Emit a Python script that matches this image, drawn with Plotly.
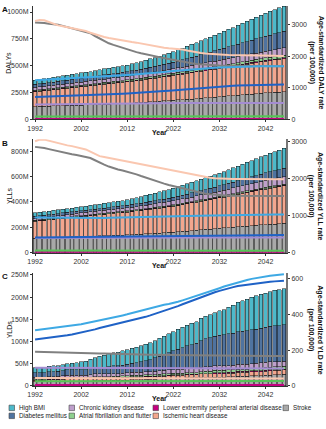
import plotly.graph_objects as go

# ---------------- data ----------------
years = list(range(1992, 2047))

causes = ["Stroke", "Ischemic heart disease", "Lower extremity peripheral arterial disease",
          "Atrial fibrillation and flutter", "Chronic kidney disease", "Diabetes mellitus", "High BMI"]

# DALYs (millions)
daly_stroke = [120,121,122,124,125,127,128,130,131,133, 134,136,137,139,140,142,143,145,146,148,
               150,152,155,157,160,163,166,169,172,175, 178,181,184,187,190,194,197,200,204,207,
               211,214,218,221,225,228,232,236,239,243, 246,249,252,255,258]
daly_ihd = [139,142,145,148,151,154,157,160,164,167, 170,173,176,179,182,185,188,191,194,197,
            200,203,206,209,213,216,219,222,225,229, 232,235,238,241,245,248,251,255,258,262,
            265,268,271,274,277,280,283,287,290,293, 296,299,302,305,309]
daly_lepad = [4,4,4,4,4,4,4,4,4,4, 4,4,4,4,5,5,5,5,5,5, 5,5,5,5,5,5,5,5,5,6,
              6,6,6,6,6,6,6,6,6,6, 6,6,6,6,7,7,7,7,7,7, 7,7,7,7,7]
daly_af = [10,10,10,10,10,11,11,11,11,11, 11,11,11,12,12,12,12,12,12,12, 12,13,13,13,13,13,14,14,14,14,
           14,15,15,15,16,16,16,17,17,17, 18,18,19,19,20,20,21,21,22,22, 23,23,24,24,25]
daly_ckd = [25,25,26,26,27,27,28,28,28,29, 29,30,30,31,31,32,32,33,33,34, 34,35,36,36,37,38,39,40,40,41,
            42,43,44,45,46,47,48,49,50,51, 52,53,54,55,56,57,58,59,60,61, 62,63,64,65,66]
daly_dm = [28,29,29,30,31,31,32,33,34,34, 35,36,36,37,38,39,40,40,41,42, 43,44,45,47,49,51,52,54,56,58,
           60,63,67,71,75,79,83,87,92,96, 100,104,108,112,116,120,124,128,132,136, 140,144,148,152,155]
daly_bmi = [40,41,42,43,44,45,46,47,48,49, 50,51,52,53,54,55,56,58,59,60, 62,64,67,70,73,77,81,85,90,95,
            100,105,110,115,120,125,130,135,140,145, 150,156,162,168,175,182,189,196,203,209, 215,220,225,230,235]

# Age-standardized DALY rate (per 100,000)
dalyr_stroke = [3070,3068,3050,3030,3015,3000,2960,2920,2890,2860, 2820,2780,2730,2640,2560,2480,2410,2360,2310,2260,
                2215,2170,2130,2095,2060,2030,2000,1970,1940,1910, 1880,1850,1820,1795,1775,1755,1740,1725,1715,1708,
                1703,1700,1698,1696,1694,1692,1691,1690,1689,1688, 1687,1686,1685,1684,1684]
dalyr_ihd = [3113,3150,3140,3080,3020,2977,2950,2920,2890,2860, 2835,2800,2742,2690,2650,2610,2580,2550,2520,2495,
             2470,2450,2430,2400,2370,2345,2320,2295,2270,2250, 2240,2230,2210,2180,2150,2125,2105,2090,2075,2065,
             2055,2048,2040,2035,2030,2027,2025,2022,2020,2018, 2016,2014,2012,2010,2008]
dalyr_lepad = [16,16,16,16,16,16,16,15,15,15, 15,15,15,15,15,15,15,15,15,15, 15,15,15,15,15,15,15,15,15,15,
               15,15,15,15,15,15,15,15,15,15, 15,15,15,15,15,15,15,15,15,15, 15,15,15,15,15]
dalyr_af = [92,92,92,93,93,93,93,94,94,94, 94,94,95,95,95,95,95,95,95,95, 95,95,95,95,95,95,96,96,96,96,
            96,96,96,96,96,96,96,96,96,96, 96,96,96,96,96,96,96,96,96,96, 96,96,96,96,96]
dalyr_ckd = [470,472,474,476,478,480,482,484,486,488, 490,492,494,496,498,500,502,504,506,508,
             510,511,512,513,514,515,516,517,518,518, 518,519,519,519,519,519,519,518,518,518,
             518,518,518,518,518,517,517,517,517,517, 517,517,517,517,517]
dalyr_dm = [709,713,717,721,726,731,736,741,746,751, 756,761,767,773,779,785,791,797,803,810,
            817,824,831,840,849,860,872,884,896,908, 920,935,950,963,976,989,1001,1012,1023,1033,
            1042,1050,1057,1064,1070,1075,1080,1084,1088,1092, 1095,1098,1100,1101,1102]
dalyr_bmi = [1239,1246,1254,1262,1270,1278,1286,1294,1302,1310, 1318,1326,1334,1342,1350,1358,1366,1374,1382,1392,
             1402,1412,1422,1434,1446,1460,1474,1488,1502,1516, 1530,1544,1557,1570,1582,1594,1605,1615,1624,1632,
             1640,1647,1653,1659,1664,1668,1672,1675,1678,1680, 1681,1682,1683,1684,1684]

# YLLs (millions)
yll_stroke = [115,116,117,118,120,121,122,123,125,126, 127,128,129,131,132,133,134,136,137,138,
              140,142,144,146,148,150,152,155,157,160, 162,165,168,171,174,177,180,183,186,189,
              192,195,198,201,204,207,210,213,216,219, 222,224,226,228,231]
yll_ihd = [133,136,138,141,143,146,148,151,153,156, 158,160,163,165,167,169,172,174,176,178,
           180,182,185,187,190,192,195,197,200,202, 205,208,212,215,219,222,226,229,233,236,
           240,244,248,252,256,260,264,268,272,276, 280,284,288,291,295]
yll_lepad = [2,2,2,2,2,2,2,2,2,2, 2,2,2,2,2,2,2,3,3,3, 3,3,3,3,3,3,3,3,3,3,
             3,3,3,3,3,3,3,3,3,4, 4,4,4,4,4,4,4,4,4,4, 4,4,4,4,4]
yll_af = [5,5,5,5,5,5,5,5,5,6, 6,6,6,6,6,6,6,6,6,6, 6,6,6,6,6,7,7,7,7,7,
          7,7,7,7,7,8,8,8,8,8, 8,8,8,9,9,9,9,9,9,9, 10,10,10,10,10]
yll_ckd = [18,18,18,19,19,19,20,20,20,21, 21,21,22,22,22,23,23,24,24,25, 25,26,26,27,28,28,29,30,30,31,
           32,33,34,35,36,37,38,39,40,41, 42,43,44,45,46,48,49,50,51,53, 54,55,56,57,58]
yll_dm = [14,14,14,15,15,15,16,16,16,17, 17,17,18,18,18,19,19,19,20,20, 20,21,22,22,23,24,25,26,26,27,
          28,29,30,31,32,34,35,36,37,39, 40,42,44,46,48,50,52,54,56,58, 60,62,63,65,66]
yll_bmi = [27,27,28,28,29,29,30,30,31,31, 32,33,33,34,35,36,37,38,39,40, 42,44,47,50,53,56,59,62,65,68,
           72,75,78,81,84,87,90,93,96,98, 100,104,108,112,116,120,124,128,132,136, 140,145,149,154,158]

# Age-standardized YLL rate (per 100,000)
yllr_stroke = [2850,2845,2820,2790,2760,2730,2700,2670,2650,2630, 2600,2575,2550,2490,2421,2370,2320,2275,2243,2215,
               2185,2150,2110,2065,2020,1975,1930,1895,1860,1825, 1796,1760,1725,1690,1662,1635,1610,1590,1573,1560,
               1548,1540,1535,1531,1529,1528,1528,1527,1527,1526, 1526,1526,1525,1525,1525]
yllr_ihd = [3003,3048,3045,3010,2975,2945,2915,2890,2870,2845, 2810,2780,2720,2650,2600,2575,2550,2525,2500,2475,
            2450,2430,2410,2385,2360,2335,2310,2285,2260,2235, 2210,2185,2160,2135,2110,2085,2060,2040,2020,2005,
            1995,1990,1987,1985,1983,1982,1981,1980,1980,1979, 1979,1978,1978,1978,1977]
yllr_lepad = [9,9,9,9,9,9,9,9,9,9, 9,9,9,8,8,8,8,8,8,8, 8,8,8,8,8,8,8,8,8,8,
              8,8,8,8,8,8,8,8,8,8, 8,8,8,8,8,8,8,8,8,8, 8,8,8,8,8]
yllr_af = [56,56,56,55,55,55,55,55,55,55, 55,54,54,54,54,54,54,54,54,54, 54,54,54,54,54,54,54,54,54,54,
           54,54,54,54,54,54,54,54,54,54, 54,54,54,54,54,54,54,54,54,54, 54,54,54,54,54]
yllr_ckd = [398,399,400,400,401,401,402,402,403,403, 404,404,404,405,405,405,405,406,406,406,
            406,406,407,407,407,407,407,407,408,408, 408,408,408,408,408,408,408,408,408,408,
            408,408,408,408,408,408,408,408,408,408, 408,408,408,408,408]
yllr_dm = [410,411,412,413,414,415,416,417,418,419, 420,421,422,423,424,425,426,427,428,429,
           430,432,434,436,438,440,442,444,446,448, 450,452,454,456,458,460,462,463,464,465,
           466,467,468,469,470,471,471,472,472,473, 473,473,474,474,474]
yllr_bmi = [946,944,942,940,938,936,935,934,933,932, 932,932,933,934,935,936,938,940,942,944,
            946,948,951,954,957,960,963,966,969,972, 975,978,981,984,987,990,993,996,999,1002,
            1005,1008,1010,1012,1014,1016,1018,1020,1022,1023, 1024,1025,1026,1026,1027]

# YLDs (millions)
yld_stroke = [9,9,9,10,10,10,10,11,11,11, 11,11,11,12,12,12,12,13,13,13, 13,14,14,14,15,15,15,16,16,16,
              17,17,17,18,18,18,19,19,19,20, 20,20,21,21,22,22,22,23,23,23, 24,24,25,25,26]
yld_ihd = [4,4,4,4,4,4,5,5,5,5, 5,5,5,5,5,5,5,5,5,6, 6,6,6,6,6,6,6,6,6,7,
           7,7,7,7,7,7,8,8,8,8, 8,8,8,8,9,9,9,9,9,9, 9,10,10,10,10]
yld_lepad = [1,1,1,1,1,1,1,1,1,1, 1,1,1,1,1,1,1,1,1,1, 1,1,1,1,1,1,1,1,1,1,
             1,1,1,1,1,1,1,1,1,2, 2,2,2,2,2,2,2,2,2,2, 2,2,2,2,2]
yld_af = [2,2,2,2,2,2,2,2,2,2, 2,2,3,3,3,3,3,3,3,3, 3,3,3,3,3,3,3,3,4,4,
          4,4,4,4,4,4,4,5,5,5, 5,5,5,5,5,5,5,5,6,6, 6,6,6,6,6]
yld_ckd = [4,4,4,4,4,5,5,5,5,5, 5,5,5,6,6,6,6,6,6,6, 7,7,7,7,7,7,8,8,8,8,
           8,9,9,9,9,9,10,10,10,10, 10,10,10,11,11,11,11,11,11,12, 12,12,12,12,12]
yld_dm = [10,10,10,11,11,11,11,12,12,12, 13,13,14,14,15,15,16,17,17,18, 19,20,21,23,25,27,30,33,36,39,
          42,45,48,51,54,57,60,63,65,67, 69,70,71,72,73,74,75,76,77,78, 79,80,81,81,82]
yld_bmi = [11,11,12,12,13,13,14,14,15,16, 17,19,21,23,25,27,29,30,31,32, 33,34,35,36,37,38,39,40,41,42,
           43,45,46,47,48,49,50,51,52,53, 55,57,60,63,66,69,71,73,75,76, 77,78,79,80,81]

# Age-standardized YLD rate (per 100,000)
yldr_stroke = [191,190,190,189,189,188,187,187,186,185, 184,184,183,182,181,181,180,179,179,178,
               178,177,177,176,176,175,175,174,174,174, 173,173,173,172,172,172,171,171,171,170,
               170,170,170,169,169,169,169,168,168,168, 168,168,167,167,167]
yldr_ihd = [44,44,44,44,44,44,44,43,43,43, 43,43,43,43,43,43,43,43,43,43, 43,43,43,43,43,43,42,42,42,42,
            42,42,42,42,42,42,42,42,42,42, 42,42,42,42,42,42,42,42,42,42, 42,42,42,42,42]
yldr_lepad = [6,6,6,6,6,6,6,6,6,6, 6,6,6,6,6,6,6,6,6,6, 6,6,6,6,6,6,6,6,6,6,
              6,6,6,6,6,6,6,6,6,6, 6,6,6,6,6,6,6,6,6,6, 6,6,6,6,6]
yldr_af = [27,27,27,27,27,27,28,28,28,28, 28,28,28,28,28,28,28,28,28,28, 28,28,28,28,28,28,28,28,28,28,
           28,28,28,28,28,28,28,28,28,28, 28,28,28,28,28,28,28,28,28,28, 28,28,28,28,28]
yldr_ckd = [102,102,102,102,102,101,101,101,101,101, 101,100,100,100,100,100,100,100,100,100,
            99,99,99,99,99,99,99,99,99,99, 99,99,98,98,98,98,98,98,98,98,
            98,98,98,98,98,98,98,98,98,98, 98,98,98,98,98]
yldr_dm = [259,262,265,268,271,274,278,283,288,293, 298,304,310,316,324,330,336,342,348,354,
           360,366,371,378,386,394,402,410,418,426, 436,446,456,466,476,486,496,505,514,523,
           531,539,546,552,558,562,566,570,573,576, 579,582,584,586,588]
yldr_bmi = [311,314,317,320,323,326,329,333,337,341, 345,350,355,360,365,370,376,382,388,394,
            400,407,414,421,428,435,442,448,454,458, 462,470,478,486,494,502,510,519,528,537,
            546,555,563,571,578,585,592,598,603,607, 611,615,618,621,624]

year_ticks = [1992, 2002, 2012, 2022, 2032, 2042]

# ---------------- styling ----------------
bar_colors = ["#A9A9A9", "#F3A68E", "#C4007F", "#8ED08E", "#BE9FCB", "#4F73A0", "#4DB9CA"]
line_colors = ["#808080", "#FAC7B0", "#C4007F", "#56C456", "#A48CD2", "#1F62C6", "#3EA9E4"]

panels = [
    dict(label="A", ytitle="DALYs", rtitle="Age-standardized DALY rate<br>(per 100,000)",
         bars=[daly_stroke, daly_ihd, daly_lepad, daly_af, daly_ckd, daly_dm, daly_bmi],
         lines=[dalyr_stroke, dalyr_ihd, dalyr_lepad, dalyr_af, dalyr_ckd, dalyr_dm, dalyr_bmi],
         lticks=[0, 250, 500, 750, 1000], lmax=1056, rticks=[0, 1000, 2000, 3000], rmax=3590,
         top=4),
    dict(label="B", ytitle="YLLs", rtitle="Age-standardized YLL rate<br>(per 100,000)",
         bars=[yll_stroke, yll_ihd, yll_lepad, yll_af, yll_ckd, yll_dm, yll_bmi],
         lines=[yllr_stroke, yllr_ihd, yllr_lepad, yllr_af, yllr_ckd, yllr_dm, yllr_bmi],
         lticks=[0, 200, 400, 600, 800], lmax=894, rticks=[0, 1000, 2000, 3000], rmax=3054,
         top=138),
    dict(label="C", ytitle="YLDs", rtitle="Age-standardized YLD rate<br>(per 100,000)",
         bars=[yld_stroke, yld_ihd, yld_lepad, yld_af, yld_ckd, yld_dm, yld_bmi],
         lines=[yldr_stroke, yldr_ihd, yldr_lepad, yldr_af, yldr_ckd, yldr_dm, yldr_bmi],
         lticks=[0, 50, 100, 150, 200, 250], lmax=255, rticks=[0, 200, 400, 600], rmax=633,
         top=272),
]

W, H = 326, 429
ML, MR, MT, MB = 33, 40, 4, 43
PW, PH = W - ML - MR, H - MT - MB
PANEL_H = 114
FONT = "Liberation Sans, Arial, sans-serif"


def px_x(px):
    return (px - ML) / PW


def px_y(py):
    return (H - MB - py) / PH


fig = go.Figure()
layout = dict(width=W, height=H, margin=dict(l=ML, r=MR, t=MT, b=MB),
              plot_bgcolor="white", paper_bgcolor="white", barmode="stack",
              showlegend=False, font=dict(family=FONT, size=7, color="#222"))
annotations = []
shapes = []

for i, p in enumerate(panels):
    xa = "x" if i == 0 else f"x{i + 1}"
    yl = f"y{2 * i + 1}" if i > 0 else "y"
    yr = f"y{2 * i + 2}"
    top, bot = p["top"], p["top"] + PANEL_H
    dom = [px_y(bot), px_y(top)]

    for k, c in enumerate(causes):
        fig.add_trace(go.Bar(x=years, y=p["bars"][k], name=c, xaxis=xa, yaxis=yl,
                             width=0.8, marker=dict(color=bar_colors[k],
                                                    line=dict(color="#111", width=0.5))))
    for k, c in enumerate(causes):
        fig.add_trace(go.Scatter(x=years, y=p["lines"][k], name=c, mode="lines", xaxis=xa, yaxis=yr,
                                 line=dict(color=line_colors[k], width=2)))

    xkey = "xaxis" if i == 0 else f"xaxis{i + 1}"
    ylkey = "yaxis" if i == 0 else f"yaxis{2 * i + 1}"
    yrkey = f"yaxis{2 * i + 2}"
    layout[xkey] = dict(domain=[0, 1], anchor=yl, range=[1991.55, 2046.45], tickvals=year_ticks,
                        ticks="outside", ticklen=2, tickcolor="#333", showline=True, linecolor="#333",
                        linewidth=0.6, showgrid=False, zeroline=False, tickfont=dict(size=7, color="#333"))
    layout[ylkey] = dict(domain=dom, anchor=xa, range=[0, p["lmax"]], tickvals=p["lticks"],
                         ticktext=["0"] + [f"{v}M" for v in p["lticks"][1:]],
                         ticks="outside", ticklen=2, tickcolor="#333", showline=True, linecolor="#333",
                         linewidth=1, showgrid=False, zeroline=False, tickfont=dict(size=7, color="#333"))
    layout[yrkey] = dict(overlaying=yl, side="right", anchor=xa, range=[0, p["rmax"]],
                         tickvals=p["rticks"], ticks="outside", ticklen=2, tickcolor="#333",
                         showline=True, linecolor="#777", linewidth=2, showgrid=False, zeroline=False,
                         tickfont=dict(size=7, color="#333"))

    mid = (top + bot) / 2
    annotations += [
        dict(text=f"<b>{p['label']}</b>", x=px_x(5), y=px_y(top + 4), xref="paper", yref="paper",
             showarrow=False, font=dict(size=8, color="#111"), xanchor="center", yanchor="middle"),
        dict(text=p["ytitle"], x=px_x(9), y=px_y(mid), xref="paper", yref="paper", textangle=-90,
             showarrow=False, font=dict(size=7, color="#111"), xanchor="center", yanchor="middle"),
        dict(text=f"<b>{p['rtitle']}</b>", x=px_x(316), y=px_y(mid), xref="paper", yref="paper",
             textangle=90, showarrow=False, font=dict(size=7, color="#111"),
             xanchor="center", yanchor="middle"),
        dict(text="<b>Year</b>", x=px_x(159), y=px_y(bot + 13), xref="paper", yref="paper",
             showarrow=False, font=dict(size=7, color="#111"), xanchor="center", yanchor="middle"),
    ]

# manual legend (two rows, column-major as in the reference)
legend_order = [6, 5, 4, 3, 2, 1, 0]
col_x = [9, 69, 153, 283]
row_y = [408, 416]
for n, k in enumerate(legend_order):
    col, row = n // 2, n % 2
    x0, yc = col_x[col], row_y[row]
    shapes.append(dict(type="rect", xref="paper", yref="paper", x0=px_x(x0), x1=px_x(x0 + 5.5),
                       y0=px_y(yc + 2.75), y1=px_y(yc - 2.75), fillcolor=bar_colors[k],
                       line=dict(color="#444", width=0.6)))
    annotations.append(dict(text=causes[k], x=px_x(x0 + 8), y=px_y(yc), xref="paper", yref="paper",
                            showarrow=False, xanchor="left", yanchor="middle",
                            font=dict(size=6.3, color="#222")))

layout["annotations"] = annotations
layout["shapes"] = shapes
fig.update_layout(**layout)
fig.write_html("out.html")
